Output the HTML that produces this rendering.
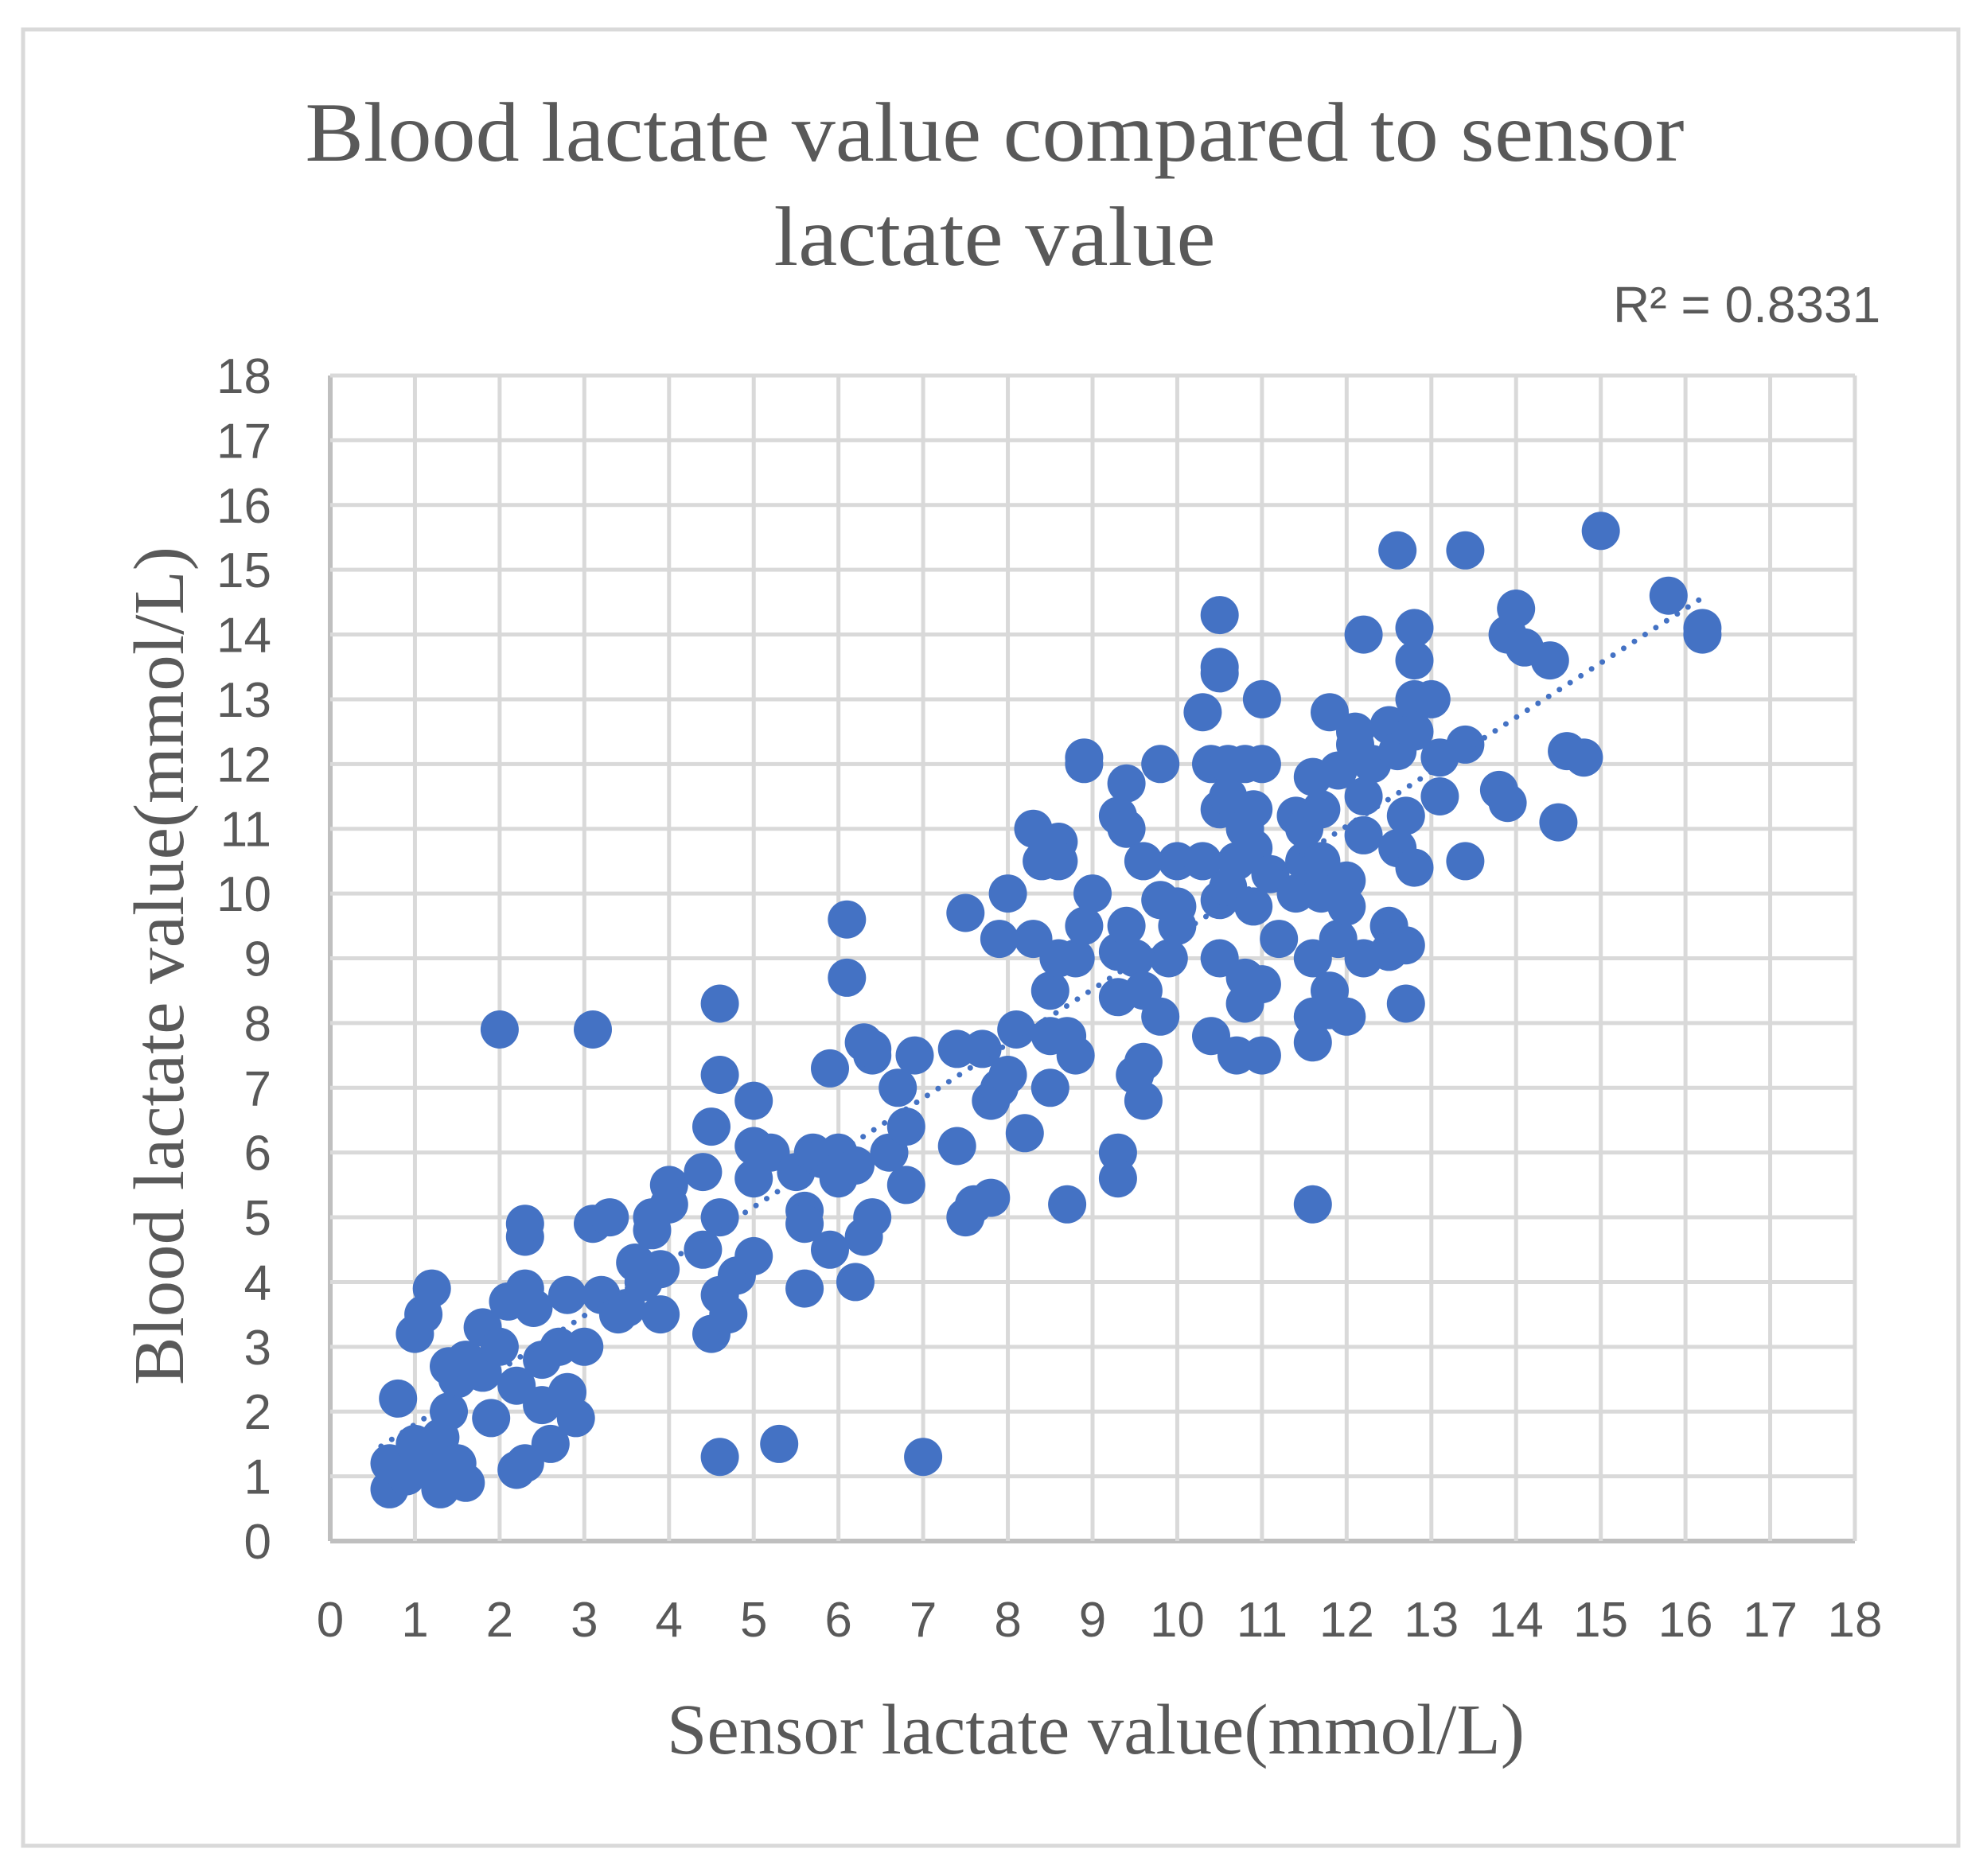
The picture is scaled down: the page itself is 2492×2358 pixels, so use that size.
<!DOCTYPE html>
<html><head><meta charset="utf-8"><style>
html,body{margin:0;padding:0;background:#fff;}
svg{display:block;}
</style></head><body>
<svg id="s" width="2492" height="2358" viewBox="0 0 2492 2358" xmlns="http://www.w3.org/2000/svg">
<rect x="0" y="0" width="2492" height="2358" fill="#fff"/>
<rect x="29" y="37" width="2432" height="2283" fill="none" stroke="#d9d9d9" stroke-width="5"/>
<g id="grid"></g>
<g font-family="'Liberation Serif',serif" fill="#595959" text-anchor="middle">
<text x="1250" y="202" font-size="106" textLength="1733" lengthAdjust="spacingAndGlyphs">Blood lactate value compared to sensor</text>
<text x="1250" y="333" font-size="106" textLength="555" lengthAdjust="spacingAndGlyphs">lactate value</text>
<text x="1377" y="2204" font-size="90" textLength="1078" lengthAdjust="spacingAndGlyphs">Sensor lactate value(mmol/L)</text>
<text transform="translate(230,1214) rotate(-90)" font-size="90" textLength="1054" lengthAdjust="spacingAndGlyphs">Blood lactate value(mmol/L)</text>
</g>
<text x="2027" y="405" font-family="'Liberation Sans',sans-serif" font-size="64" fill="#595959">R² = 0.8331</text>
<g id="lbl" font-family="'Liberation Sans',sans-serif" font-size="62" fill="#595959"></g>
<g id="pts" fill="#4472C4"></g>
<line id="trend" stroke="#4472C4" stroke-width="7" stroke-dasharray="0 16" stroke-linecap="round"/>
</svg>
<script>
var L=415,R=2331,T=472,B=1937,sx=(R-L)/18,sy=(B-T)/18;
function X(v){return L+v*sx;}function Y(v){return B-v*sy;}
var ns="http://www.w3.org/2000/svg";
function el(t,a,p){var e=document.createElementNS(ns,t);for(var k in a)e.setAttribute(k,a[k]);p.appendChild(e);return e;}
var g=document.getElementById('grid'),lb=document.getElementById('lbl');
for(var i=0;i<=18;i++){
 el('line',{x1:X(i),x2:X(i),y1:T,y2:B,stroke:i==0?'#bfbfbf':'#d9d9d9','stroke-width':i==0?6:5},g);
 el('line',{x1:L,x2:R,y1:Y(i),y2:Y(i),stroke:i==0?'#bfbfbf':'#d9d9d9','stroke-width':i==0?6:5},g);
 var t=el('text',{x:341,y:Y(i)+22,'text-anchor':'end'},lb);t.textContent=i;
 var u=el('text',{x:X(i),y:2057,'text-anchor':'middle'},lb);u.textContent=i;
}
var d=[[0.7,0.8],[0.7,1.2],[0.9,1.0],[0.8,2.2],[1.0,3.2],[1.1,3.5],[1.2,3.9],[1.0,1.5],[1.2,1.2],[1.3,0.8],[1.3,1.6],[1.4,2.0],[1.5,2.5],[1.5,1.2],[1.6,0.9],[1.4,2.7],[1.6,2.8],[1.8,3.3],[1.8,2.6],[2.0,3.0],[1.9,1.9],[2.1,3.7],[2.2,2.4],[2.2,1.1],[2.3,1.2],[2.3,3.9],[2.3,4.7],[2.3,4.9],[2.4,3.6],[2.5,2.8],[2.5,2.1],[2.6,1.5],[2.7,3.0],[2.8,3.8],[2.8,2.3],[2.9,1.9],[3.0,3.0],[3.1,4.9],[3.2,3.8],[3.3,5.0],[3.4,3.5],[3.5,3.6],[3.6,4.3],[3.7,4.0],[3.8,5.0],[3.8,4.8],[3.9,4.2],[3.9,3.5],[4.0,5.5],[4.0,5.2],[2.0,7.9],[3.1,7.9],[4.4,5.7],[4.4,4.5],[4.5,6.4],[4.5,3.2],[4.6,8.3],[4.6,1.3],[4.6,7.2],[4.6,5.0],[4.6,3.8],[4.7,3.5],[4.8,4.1],[5.0,6.8],[5.0,6.1],[5.0,5.6],[5.0,4.4],[5.2,6.0],[5.3,1.5],[5.5,5.7],[5.6,5.1],[5.6,4.9],[5.6,3.9],[5.7,6.0],[5.8,5.9],[5.9,7.3],[5.9,4.5],[6.0,5.6],[6.0,6.0],[6.1,9.6],[6.1,8.7],[6.2,5.8],[6.2,4.0],[6.3,4.7],[6.3,7.7],[6.4,7.5],[6.4,7.6],[6.4,5.0],[6.6,6.0],[6.7,7.0],[6.8,6.4],[6.8,5.5],[6.9,7.5],[7.0,1.3],[7.4,6.1],[7.4,7.6],[7.5,9.7],[7.5,5.0],[7.6,5.2],[7.7,7.6],[7.8,6.8],[7.8,5.3],[7.9,9.3],[7.9,7.0],[8.0,7.2],[8.0,10.0],[8.1,7.9],[8.2,6.3],[8.3,9.3],[8.3,11.0],[8.4,10.5],[8.5,7.0],[8.5,7.8],[8.5,8.5],[8.6,10.8],[8.6,10.5],[8.6,9.0],[8.7,5.2],[8.7,7.8],[8.8,7.5],[8.8,9.0],[8.9,12.0],[8.9,9.5],[8.9,12.1],[9.0,10.0],[9.3,8.4],[9.3,9.1],[9.3,11.2],[9.3,6.0],[9.3,5.6],[9.4,9.5],[9.4,11.0],[9.4,11.7],[9.5,9.0],[9.5,7.2],[9.6,10.5],[9.6,8.5],[9.6,7.4],[9.6,6.8],[9.8,9.9],[9.8,8.1],[9.8,12.0],[9.9,9.0],[10.0,9.8],[10.0,10.5],[10.0,9.5],[10.3,10.5],[10.3,12.8],[10.4,7.8],[10.4,12.0],[10.5,14.3],[10.5,13.5],[10.5,13.4],[10.5,11.3],[10.5,9.0],[10.5,9.9],[10.6,12.0],[10.6,11.5],[10.6,10.1],[10.7,7.5],[10.7,10.5],[10.8,12.0],[10.8,11.0],[10.8,8.3],[10.8,8.7],[10.9,9.8],[10.9,11.3],[10.9,10.7],[11.0,12.0],[11.0,13.0],[11.0,8.6],[11.0,7.5],[11.1,10.3],[11.2,9.3],[11.4,10.0],[11.4,11.2],[11.5,11.0],[11.5,10.5],[11.6,11.8],[11.6,9.0],[11.6,8.1],[11.6,7.7],[11.6,5.2],[11.7,11.3],[11.7,10.5],[11.7,10.0],[11.8,12.8],[11.8,8.5],[11.8,8.2],[11.9,9.3],[11.9,11.9],[12.0,10.2],[12.0,8.1],[12.0,9.8],[12.1,12.5],[12.1,12.3],[12.2,11.5],[12.2,10.9],[12.2,9.0],[12.2,14.0],[12.3,12.0],[12.5,12.6],[12.5,9.5],[12.5,9.1],[12.6,15.3],[12.6,12.2],[12.6,10.7],[12.7,11.2],[12.7,9.2],[12.7,8.3],[12.8,10.4],[12.8,12.5],[12.8,13.0],[12.8,13.6],[12.8,14.1],[13.0,13.0],[13.1,11.5],[13.1,12.1],[13.4,15.3],[13.4,12.3],[13.4,10.5],[13.8,11.6],[13.9,11.4],[13.9,14.0],[14.0,14.4],[14.1,13.8],[14.4,13.6],[14.5,11.1],[14.6,12.2],[14.8,12.1],[15.0,15.6],[15.8,14.6],[16.2,14.1],[16.2,14.0]];
var p=document.getElementById('pts');
d.forEach(function(q){el('circle',{cx:X(q[0]).toFixed(1),cy:Y(q[1]).toFixed(1),r:24},p);});
var tr=document.getElementById('trend');
tr.setAttribute('x1',X(0.6));tr.setAttribute('y1',Y(0.96+0.84*0.6));
tr.setAttribute('x2',X(16.2));tr.setAttribute('y2',Y(0.96+0.84*16.2));
</script>
</body></html>
